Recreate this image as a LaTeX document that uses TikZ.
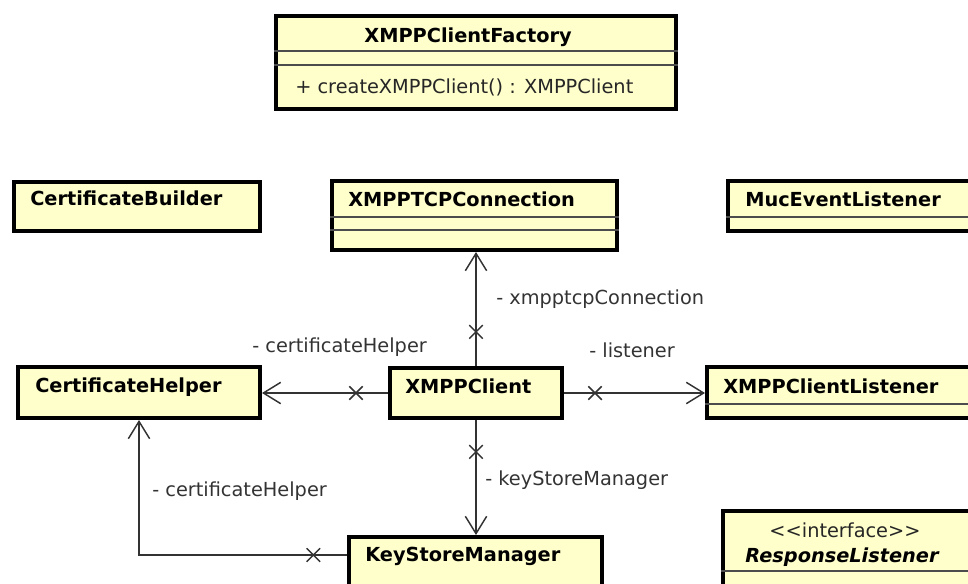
\documentclass[tikz,border=0pt]{standalone}
\usepackage{fontspec}
\setmainfont{DejaVu Sans}
\usetikzlibrary{arrows.meta,shapes.misc}
\definecolor{clsfill}{RGB}{255,255,204}
\definecolor{lnc}{RGB}{51,51,51}
\begin{document}
\begin{tikzpicture}[x=0.75pt,y=-0.75pt,
  cls/.style={draw=black, line width=3pt, fill=clsfill, anchor=north west, inner sep=0pt},
  sepline/.style={draw=black!70, line width=1pt},
  title/.style={font=\fontsize{14.5}{17}\selectfont\bfseries, anchor=base west, inner sep=0pt},
  lbl/.style={font=\fontsize{14.5}{17}\selectfont, text=lnc, anchor=base west, inner sep=0pt},
  assoc/.style={draw=lnc, line width=1.1pt, -{Straight Barb[length=13pt,width=16pt]}},
  xm/.style={cross out, draw=lnc, line width=1.1pt, minimum size=9pt, inner sep=0pt}]
\useasboundingbox (0,0) rectangle (968,583);
\clip (0,0) rectangle (968,583);
% boxes
\node[cls, minimum width=300pt, minimum height=69.75pt] (fac) at (274,14) {};
\node[cls, minimum width=184.5pt, minimum height=36.75pt] (cb) at (12,180) {};
\node[cls, minimum width=213.75pt, minimum height=51.75pt] (tcp) at (330,179) {};
\node[cls, minimum width=225pt, minimum height=37.5pt] (muc) at (726,179) {};
\node[cls, minimum width=181.5pt, minimum height=38.25pt] (ch) at (16,365) {};
\node[cls, minimum width=129pt, minimum height=37.5pt] (xc) at (388,366) {};
\node[cls, minimum width=225pt, minimum height=38.25pt] (xcl) at (705,365) {};
\node[cls, minimum width=189.75pt, minimum height=60pt] (ksm) at (347,535) {};
\node[cls, minimum width=225pt, minimum height=75pt] (rl) at (721,509) {};
% compartment separators
\draw[sepline] (fac.west |- 0,51) -- (fac.east |- 0,51);
\draw[sepline] (fac.west |- 0,65) -- (fac.east |- 0,65);
\draw[sepline] (tcp.west |- 0,217) -- (tcp.east |- 0,217);
\draw[sepline] (tcp.west |- 0,230) -- (tcp.east |- 0,230);
\draw[sepline] (muc.west |- 0,217) -- (muc.east |- 0,217);
\draw[sepline] (xcl.west |- 0,404) -- (xcl.east |- 0,404);
\draw[sepline] (rl.west |- 0,571) -- (rl.east |- 0,571);
% titles
\node[title, anchor=base] (facT) at (468,42) {XMPPClientFactory};
\node[lbl, text=black!85] (facM) at (295,93) {+ createXMPPClient() : XMPPClient};
\node[title] (cbT) at (30,205) {CertificateBuilder};
\node[title] (tcpT) at (348,206) {XMPPTCPConnection};
\node[title] (mucT) at (745,206) {MucEventListener};
\node[title] (chT) at (35,392) {CertificateHelper};
\node[title] (xcT) at (405,393) {XMPPClient};
\node[title] (xclT) at (723,393) {XMPPClientListener};
\node[title] (ksmT) at (365,561) {KeyStoreManager};
\node[lbl, anchor=base, text=black!85] (rlS) at (845,537) {<{}<interface>{}>};
\node[title, anchor=base, font=\fontsize{14.5}{17}\selectfont\bfseries\itshape] (rlT) at (842,562) {ResponseListener};
% connectors
\draw[assoc] (xc.north) -- node[xm, pos=0.3]{} (xc.north |- tcp.south);
\draw[assoc] (xc.west) -- node[xm, pos=0.254]{} (ch.east |- xc.west);
\draw[assoc] (xc.east) -- node[xm, pos=0.22]{} (xcl.west |- xc.east);
\draw[assoc] (xc.south) -- node[xm, pos=0.277]{} (xc.south |- ksm.north);
\draw[assoc] ([yshift=-15pt]ksm.north west) -| node[xm, pos=0.081]{} (ch.south);
% labels
\node[lbl] (l1) at (496,304) {- xmpptcpConnection};
\node[lbl] (l2) at (252,352) {- certificateHelper};
\node[lbl] (l3) at (589,357) {- listener};
\node[lbl] (l4) at (485,485) {- keyStoreManager};
\node[lbl] (l5) at (152,496) {- certificateHelper};
\end{tikzpicture}
\end{document}
